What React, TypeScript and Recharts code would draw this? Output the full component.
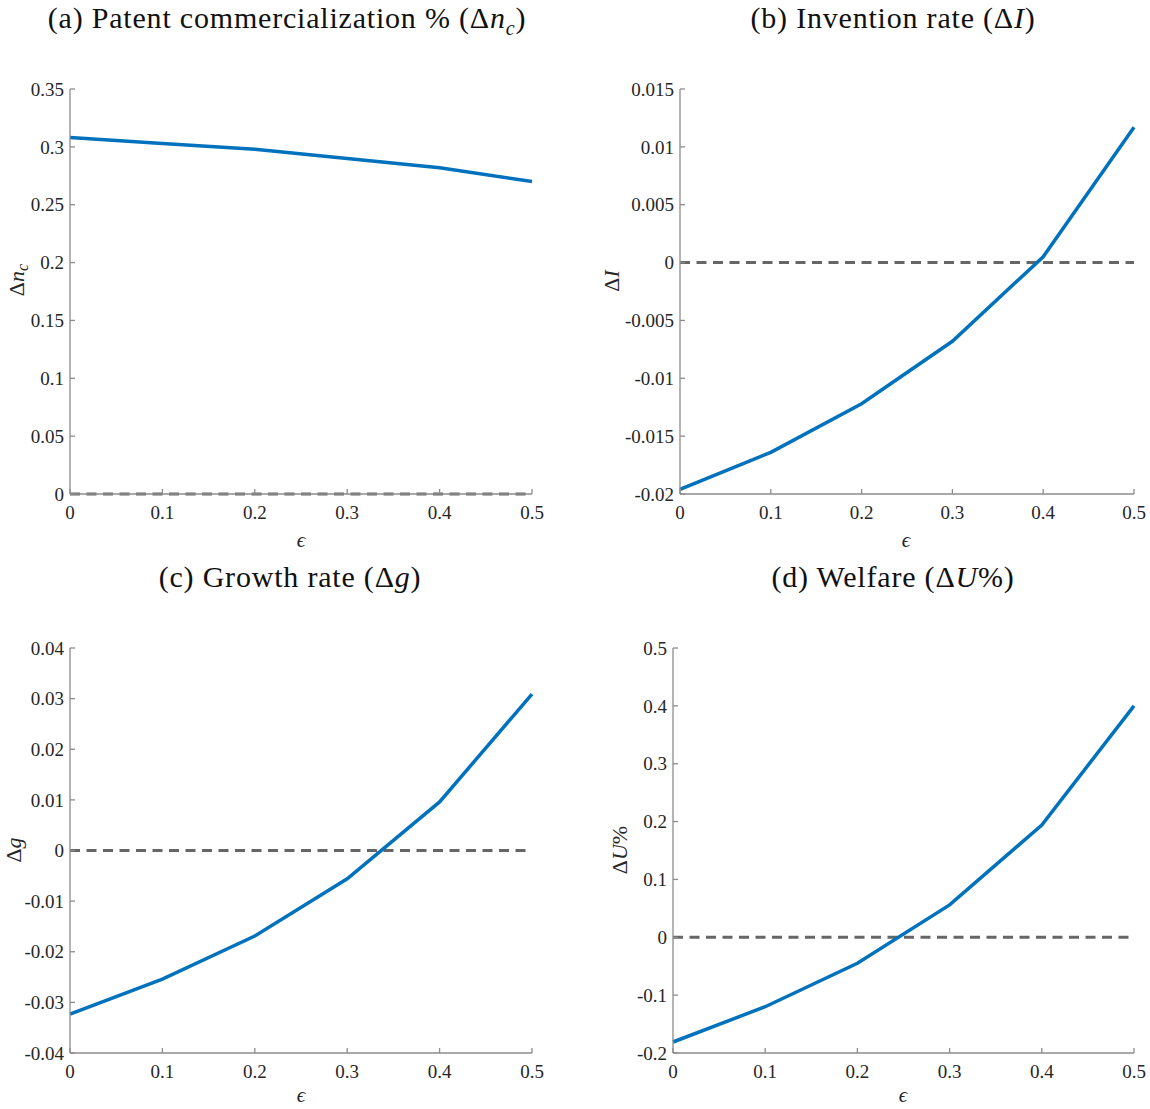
import React from "react";
import { LineChart, Line, XAxis, YAxis, ReferenceLine, Label } from "recharts";

const epsilon = [0, 0.1, 0.2, 0.3, 0.4, 0.5];
const commercialization = [0.308, 0.303, 0.298, 0.29, 0.282, 0.27];
const invention = [-0.0196, -0.0164, -0.0122, -0.0068, 0.0005, 0.0117];
const growth = [-0.0323, -0.0254, -0.0169, -0.0056, 0.0096, 0.0309];
const welfare = [-0.181, -0.12, -0.045, 0.056, 0.194, 0.4];

const xTicks = [0, 0.1, 0.2, 0.3, 0.4, 0.5];
const commercializationTicks = [0, 0.05, 0.1, 0.15, 0.2, 0.25, 0.3, 0.35];
const inventionTicks = [-0.02, -0.015, -0.01, -0.005, 0, 0.005, 0.01, 0.015];
const growthTicks = [-0.04, -0.03, -0.02, -0.01, 0, 0.01, 0.02, 0.03, 0.04];
const welfareTicks = [-0.2, -0.1, 0, 0.1, 0.2, 0.3, 0.4, 0.5];

const FONT = "Liberation Serif, DejaVu Serif, serif";
const BLUE = "#0072BD";
const AXIS = "#8c8c8c";
const TEXT = "#262626";

type Margin = { top: number; right: number; bottom: number; left: number };

interface PanelProps {
  left: number;
  top: number;
  width: number;
  height: number;
  margin: Margin;
  values: number[];
  ticks: number[];
  yLabel: React.ReactNode;
  yLabelPos: [number, number];
  xLabelPos: [number, number];
}

const Panel = ({
  left,
  top,
  width,
  height,
  margin,
  values,
  ticks,
  yLabel,
  yLabelPos,
  xLabelPos,
}: PanelProps) => {
  const data = epsilon.map((e, i) => ({ eps: e, value: values[i] }));
  const tickStyle = { fontFamily: FONT, fontSize: 19, fill: TEXT };
  return (
    <div style={{ position: "absolute", left, top }}>
      <LineChart width={width} height={height} data={data} margin={margin}>
        <XAxis
          dataKey="eps"
          type="number"
          domain={[0, 0.5]}
          ticks={xTicks}
          height={40}
          tickSize={-5}
          tickMargin={17}
          stroke={AXIS}
          strokeWidth={1.3}
          tick={tickStyle}
          interval={0}
        >
          <Label
            content={() => (
              <text
                x={xLabelPos[0]}
                y={xLabelPos[1]}
                textAnchor="middle"
                fontFamily={FONT}
                fontStyle="italic"
                fontSize={21}
                fill={TEXT}
              >
                {"\u03f5"}
              </text>
            )}
          />
        </XAxis>
        <YAxis
          type="number"
          domain={[ticks[0], ticks[ticks.length - 1]]}
          ticks={ticks}
          width={60}
          tickSize={-5}
          tickMargin={11}
          stroke={AXIS}
          strokeWidth={1.3}
          tick={tickStyle}
          interval={0}
        >
          <Label
            content={() => (
              <text
                x={yLabelPos[0]}
                y={yLabelPos[1]}
                textAnchor="middle"
                fontFamily={FONT}
                fontSize={22}
                fill={TEXT}
                transform={`rotate(-90 ${yLabelPos[0]} ${yLabelPos[1]})`}
              >
                {yLabel}
              </text>
            )}
          />
        </YAxis>
        <ReferenceLine
          y={0}
          stroke="#666666"
          strokeWidth={3}
          strokeDasharray="10 6.5"
        />
        <Line
          type="linear"
          dataKey="value"
          stroke={BLUE}
          strokeWidth={3.5}
          dot={false}
          isAnimationActive={false}
        />
      </LineChart>
    </div>
  );
};

const titleStyle = (left: number, top: number): React.CSSProperties => ({
  position: "absolute",
  left: left - 300,
  top,
  width: 600,
  textAlign: "center",
  fontFamily: FONT,
  fontSize: 30,
  letterSpacing: 0.8,
  lineHeight: 1,
  color: "#111",
  whiteSpace: "nowrap",
});

const App = () => {
  return (
    <div
      style={{
        position: "absolute",
        left: 0,
        top: 0,
        width: 1150,
        height: 1109,
        background: "#fff",
        overflow: "hidden",
      }}
    >
      <div style={titleStyle(287, 3)}>
        (a) Patent commercialization % (Δ<i>n</i>
        <sub style={{ fontSize: 20, fontStyle: "italic" }}>c</sub>)
      </div>
      <div style={titleStyle(893, 3)}>
        (b) Invention rate (Δ<i>I</i>)
      </div>
      <div style={titleStyle(290, 562)}>
        (c) Growth rate (Δ<i>g</i>)
      </div>
      <div style={titleStyle(893, 562)}>
        (d) Welfare (Δ<i>U</i>%)
      </div>

      <Panel
        left={0}
        top={0}
        width={575}
        height={555}
        margin={{ top: 89, right: 43, bottom: 21, left: 10 }}
        values={commercialization}
        ticks={commercializationTicks}
        yLabel={
          <>
            <tspan>Δ</tspan>
            <tspan fontStyle="italic">n</tspan>
            <tspan fontStyle="italic" fontSize={16} dy={4}>
              c
            </tspan>
          </>
        }
        yLabelPos={[24, 280]}
        xLabelPos={[301, 547]}
      />
      <Panel
        left={575}
        top={0}
        width={575}
        height={555}
        margin={{ top: 89, right: 16, bottom: 21, left: 45 }}
        values={invention}
        ticks={inventionTicks}
        yLabel={
          <>
            <tspan>Δ</tspan>
            <tspan fontStyle="italic">I</tspan>
          </>
        }
        yLabelPos={[44, 281]}
        xLabelPos={[331, 547]}
      />
      <Panel
        left={0}
        top={555}
        width={575}
        height={554}
        margin={{ top: 93, right: 43, bottom: 16, left: 10 }}
        values={growth}
        ticks={growthTicks}
        yLabel={
          <>
            <tspan>Δ</tspan>
            <tspan fontStyle="italic">g</tspan>
          </>
        }
        yLabelPos={[21, 295]}
        xLabelPos={[301, 547]}
      />
      <Panel
        left={575}
        top={555}
        width={575}
        height={554}
        margin={{ top: 93, right: 16, bottom: 16, left: 38 }}
        values={welfare}
        ticks={welfareTicks}
        yLabel={
          <>
            <tspan>Δ</tspan>
            <tspan fontStyle="italic">U</tspan>
            <tspan>%</tspan>
          </>
        }
        yLabelPos={[52, 295]}
        xLabelPos={[328, 547]}
      />
    </div>
  );
};

export default App;
